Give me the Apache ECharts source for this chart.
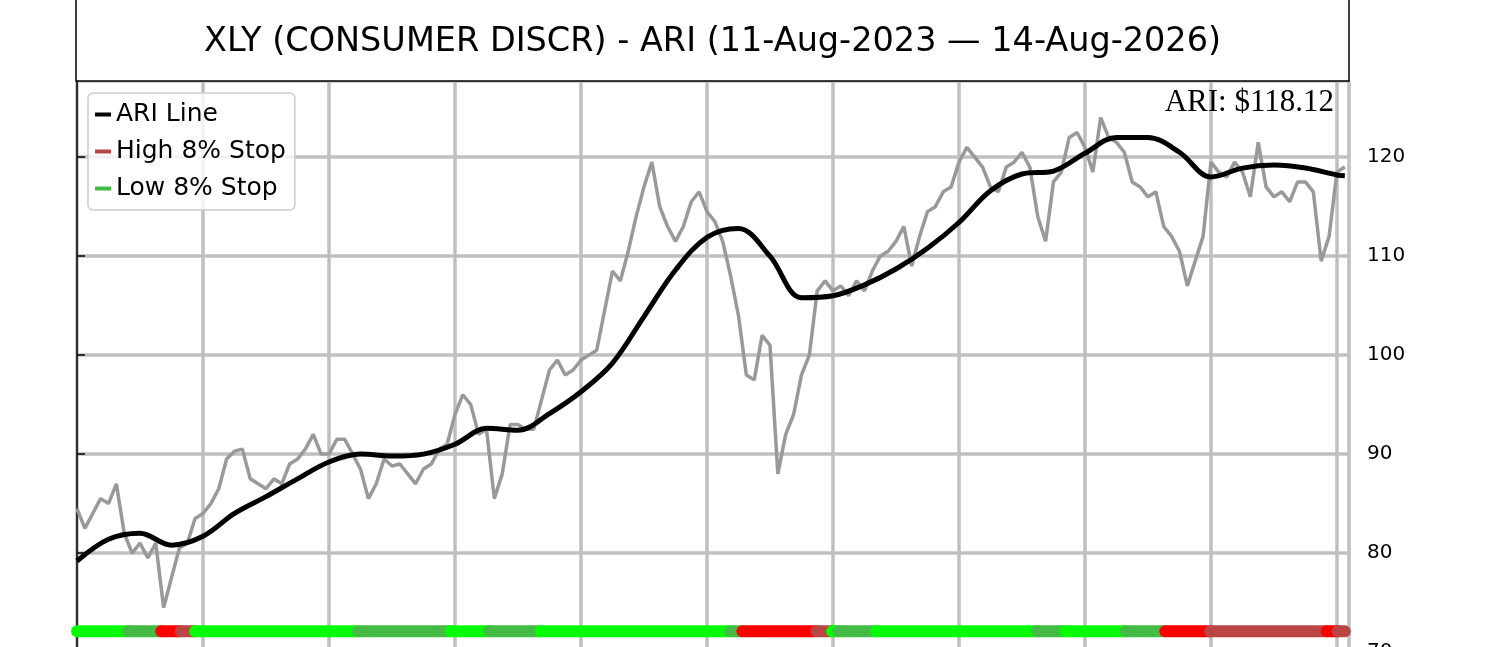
<!DOCTYPE html>
<html>
<head>
<meta charset="utf-8">
<script src="https://cdn.jsdelivr.net/npm/echarts@6/dist/echarts.min.js"></script>
<style>
  html, body { margin: 0; padding: 0; background: #fff; overflow: hidden; }
  #cc { width: 1500px; height: 780px; }
</style>
</head>
<body>
<div id="cc"></div>
<script>
// closing prices, one value per sample (gridline every 16 samples)
var priceValues = [
  84.5, 82.5, 84, 85.5, 85, 87, 82, 80, 81, 79.5,
  81, 74.5, 77.5, 80.5, 81, 83.5, 84, 85, 86.5, 89.5,
  90.3, 90.5, 87.5, 87, 86.5, 87.5, 87, 89, 89.5, 90.5,
  92, 90, 90, 91.5, 91.5, 90, 88.5, 85.5, 87, 89.5,
  88.8, 89, 88, 87, 88.5, 89, 90.5, 91, 94, 96,
  95, 92, 92.5, 85.5, 88, 93, 93, 92.5, 92.5, 95.5,
  98.5, 99.5, 98, 98.5, 99.5, 100, 100.5, 104.5, 108.5, 107.5,
  110.5, 114, 117, 119.5, 115, 113, 111.5, 113, 115.5, 116.5,
  114.5, 113.5, 111.5, 108, 104, 98, 97.5, 102, 101, 88,
  92, 94, 98, 100, 106.5, 107.5, 106.5, 107, 106, 107.5,
  106.5, 108.5, 110, 110.5, 111.5, 113, 109, 112, 114.5, 115,
  116.5, 117, 119.5, 121, 120, 119, 117, 116.5, 119, 119.5,
  120.5, 119, 114, 111.5, 117.5, 118.5, 122, 122.5, 121, 118.5,
  124, 122, 121.5, 120.5, 117.5, 117, 116, 116.5, 113, 112,
  110.5, 107, 109.5, 112, 119.5, 118.5, 118, 119.5, 118.5, 116,
  121.5, 117, 116, 116.5, 115.5, 117.5, 117.5, 116.5, 109.5, 112,
  118.5, 119
];

// ARI line, sampled at these indices
var ariIdx = [0, 4, 8, 12, 16, 20, 24, 28, 32, 36, 40, 44, 48, 52, 56, 60, 64, 68, 72, 76,
  80, 84, 88, 92, 96, 100, 104, 108, 112, 116, 120, 124, 128, 132, 136, 140, 144, 148, 152, 156, 160, 161];
var ariValues = [79.2, 81.4, 82.0, 80.8, 81.7, 84.0, 85.7, 87.5, 89.2, 90.0, 89.8, 90.0, 91.0, 92.6, 92.4, 94.1, 96.3, 99.2, 103.9, 108.6,
  111.9, 112.8, 110.0, 105.8, 106.0, 107.1, 108.7, 110.8, 113.4, 116.6, 118.3, 118.6, 120.4, 122.0, 122.0, 120.5, 118.0, 118.9, 119.2, 118.9, 118.2, 118.12];

// stop-state strip: breaks between segments and the state of each one
// H = high stop hit, h = high stop, L = low stop hit, l = low stop
var stripBreaks = [0, 6.5, 10.7, 13.2, 15, 35.7, 47.5, 52.3, 58.9, 83, 84.5, 93.9, 95.9, 96.7, 101.5, 121.9, 125.5, 133.2, 138.2, 143.9, 158.7, 160.1, 161];
var stripStates = ['L', 'l', 'H', 'h', 'L', 'l', 'L', 'l', 'L', 'l', 'H', 'h', 'L', 'l', 'L', 'l', 'L', 'l', 'H', 'h', 'H', 'h'];
var stripLevel = 72.1;

var lastAri = 118.12;

var chart = echarts.init(document.getElementById('cc'));

var stateStyle = {
    H: { name: 'High 8% Stop hit', color: '#ff0000' },
    h: { name: 'High 8% Stop', color: '#bb4444' },
    L: { name: 'Low 8% Stop hit', color: '#00ff00' },
    l: { name: 'Low 8% Stop', color: '#44bb44' }
};

var series = [
    {
        name: 'Price',
        type: 'line',
        data: priceValues.map(function (v, i) { return [i, v]; }),
        showSymbol: false,
        color: '#999999',
        lineStyle: { color: '#999999', width: 3.5 },
        z: 2
    },
    {
        name: 'ARI Line',
        type: 'line',
        data: ariIdx.map(function (x, i) { return [x, ariValues[i]]; }),
        showSymbol: false,
        smooth: 0.35,
        color: '#000000',
        lineStyle: { color: '#000000', width: 5 },
        z: 3
    }
];

// legend-colour series first so the legend picks them up
['h', 'l'].forEach(function (s) {
    series.push({
        name: stateStyle[s].name, type: 'line', data: [], color: stateStyle[s].color
    });
});

stripStates.forEach(function (s, i) {
    series.push({
        name: stateStyle[s].name,
        type: 'line',
        data: [[stripBreaks[i], stripLevel], [stripBreaks[i + 1], stripLevel]],
        showSymbol: false,
        color: stateStyle[s].color,
        lineStyle: { color: stateStyle[s].color, width: 12, cap: 'round' },
        z: 4
    });
});

var option = {
    animation: false,
    backgroundColor: '#ffffff',
    grid: {
        left: 77, top: 81, width: 1272, height: 670,
        show: true, borderColor: '#000', borderWidth: 1.5, backgroundColor: '#fff'
    },
    legend: {
        left: 88, top: 93, orient: 'vertical',
        data: ['ARI Line', 'High 8% Stop', 'Low 8% Stop'],
        icon: 'rect', itemWidth: 16, itemHeight: 4, itemGap: 10,
        selectedMode: false,
        textStyle: { fontFamily: 'DejaVu Sans', fontSize: 25, color: '#000', lineHeight: 27 },
        padding: [8, 9, 8, 7],
        backgroundColor: 'rgba(255,255,255,0.8)',
        borderColor: '#cccccc', borderWidth: 1.5, borderRadius: 5,
        z: 10
    },
    xAxis: {
        type: 'value', min: 0, max: 161.53, interval: 16,
        axisLine: { show: false }, axisTick: { show: false }, axisLabel: { show: false },
        splitLine: { show: true, lineStyle: { color: '#bfbfbf', width: 3.5 } }
    },
    yAxis: {
        type: 'value', position: 'right', min: 60, max: 127.7, interval: 10,
        axisLine: { show: true, lineStyle: { color: '#000', width: 1.5 } },
        axisTick: { show: true, length: 8, lineStyle: { color: '#000', width: 1.5 } },
        axisLabel: {
            show: true, showMaxLabel: false, margin: 18,
            fontFamily: 'DejaVu Sans', fontSize: 20, color: '#000'
        },
        splitLine: { show: true, lineStyle: { color: '#bfbfbf', width: 3.5 } }
    },
    graphic: [
        {
            type: 'rect', z: 20,
            shape: { x: 76, y: -2, width: 1273, height: 83 },
            style: { fill: '#fff', stroke: '#000', lineWidth: 1.5 }
        },
        {
            type: 'text', z: 21, x: 712.5, y: 42,
            style: {
                text: 'XLY (CONSUMER DISCR) - ARI (11-Aug-2023 \u2014 14-Aug-2026)',
                font: '33.5px "DejaVu Sans"', fill: '#000',
                textAlign: 'center', textVerticalAlign: 'middle'
            }
        },
        {
            type: 'text', z: 21, x: 1334, y: 103,
            style: {
                text: 'ARI: $' + lastAri.toFixed(2),
                font: '31px "Liberation Serif"', fill: '#000',
                textAlign: 'right', textVerticalAlign: 'middle'
            }
        }
    ],
    series: series
};

chart.setOption(option);
</script>
</body>
</html>
